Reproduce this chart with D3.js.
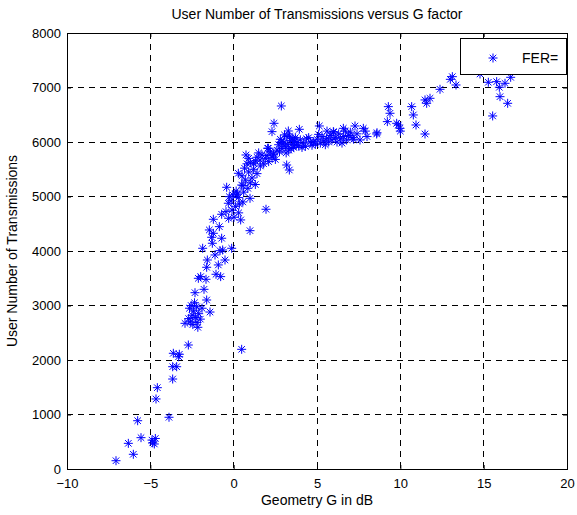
<!DOCTYPE html>
<html>
<head>
<meta charset="utf-8">
<script src="https://cdn.jsdelivr.net/npm/d3@7"></script>
<style>
body { margin: 0; background: #fff; }
text { font-family: "Liberation Sans", Arial, sans-serif; }
</style>
</head>
<body>
<script>
// axis ticks
var xTicks = [-10, -5, 0, 5, 10, 15, 20];
var yTicks = [0, 1000, 2000, 3000, 4000, 5000, 6000, 7000, 8000];

// geometry G (dB)
var gFactor = [
  -7.06, -6.32, -6.02, -5.56, -5.76, -4.9, -4.86, -4.76, -4.7, -4.66, -4.58, -3.88, -3.66, -3.66, -3.42, -3.62, -3.26, -3.3, -2.72, 0.48,
  -2.92, -2.7, -2.6, -2.5, -2.45, -2.4, -2.3, -2.2, -2.1, -2.55, -2.35, -2.22, -2.0, -1.9, -1.42, -2.65, -2.15,
  -1.62, -2.32, -1.78, -2.12, -1.98, -1.66, -1.06, -0.78, -1.62, -0.92, -1.58, -0.52, -1.12, -0.82, -0.66, -0.12, -1.86,
  -1.28, -0.72, -1.32, -1.22, -1.46, -0.86, 0.98, -1.22, -0.72, -0.46,
  -0.3, -0.1, 0.1, 0.3, 0.42, 0.02, -0.32, 0.34, -0.26, 0.22, 0.98, 1.94, -0.42, 0.48, -0.15, 0.55, 0.15, -0.05, 0.28, 0.6,
  0.28, 0.74, 1.58, 2.08, 3.18, 3.34, 0.16, 0.56, 0.7, 0.85, 1.0, 1.1, 1.3, 0.5, 0.9, 1.2, 0.65, 1.4, 1.6, 1.0, 1.3, 1.8,
  1.9, 2.1, 2.3, 2.4, 2.5, 1.7, 2.2, 2.0, 1.5, 0.9, 2.6, 2.38, 2.04, 1.2, 0.8, 1.4,
  2.86, 2.42, 2.3, 3.28, 3.94, 5.14, 5.98, 2.7, 2.8, 2.9, 3.0, 3.1, 3.2, 3.3, 3.4, 3.5, 3.6, 3.7, 3.8, 3.9, 4.0, 4.2, 4.38,
  2.75, 3.05, 3.15, 3.45, 3.65, 2.95, 3.25, 3.55, 4.1, 3.35, 2.85, 3.75, 4.3,
  4.6, 4.78, 4.9, 5.0, 5.2, 5.3, 5.4, 5.58, 5.7, 5.8, 5.9, 6.1, 6.2, 6.3, 6.4, 6.58, 6.6, 6.78, 6.9, 7.0, 7.1, 7.28, 7.4,
  7.58, 7.78, 7.9, 8.0, 4.5, 5.1, 5.5, 6.0, 6.7, 7.2, 4.7, 5.6, 6.5,
  8.58, 8.6, 9.28, 9.38, 9.22, 9.78, 9.98, 9.88, 10.0, 10.68, 10.78, 10.94, 11.48, 11.48, 11.78, 11.58, 12.38, 13.12, 13.34,
  14.78, 15.28, 15.78, 15.94, 15.98, 16.28, 16.44, 16.62, 15.54, 13.0
];

// user number of transmissions, same order
var transmissions = [
  152, 471, 270, 575, 886, 530, 480, 459, 560, 1285, 1492, 949, 1651, 1877, 1877, 2123, 2105, 2060, 2275, 2196,
  2673, 2760, 2700, 2820, 2650, 2900, 2780, 2690, 2850, 3000, 3050, 2978, 2750, 2950, 2880, 2950, 2600,
  3101, 3235, 3297, 3499, 3530, 3481, 3573, 3530, 3701, 3744, 3835, 3835, 3927, 4006, 4019, 4050, 4050,
  4142, 4234, 4252, 4325, 4386, 4447, 4373, 4582, 4674, 4722,
  4600, 4750, 4820, 4700, 4570, 4619, 4876, 4863, 4997, 5046, 4967, 4766, 5169, 5211, 4920, 4900, 5100, 5030, 4980, 5080,
  5426, 5762, 5670, 5885, 5578, 5486, 5028, 5200, 5300, 5150, 5250, 5340, 5220, 5380, 5450, 5500, 5520, 5420, 5560, 5620, 5650, 5600,
  5700, 5640, 5720, 5780, 5680, 5760, 5820, 5750, 5800, 5700, 5850, 5762, 5885, 5600, 5600, 5720,
  6661, 6343, 6190, 6202, 6233, 6294, 6190, 5950, 6050, 5880, 6000, 5920, 6100, 5850, 6030, 5960, 5900, 6080, 5990, 5930, 6040, 5980, 6060,
  5820, 6130, 5800, 5880, 6010, 5970, 5950, 6070, 5900, 6110, 6000, 5940, 5920,
  6000, 6006, 5960, 6050, 5980, 6100, 6020, 6068, 6000, 6120, 6040, 6080, 6000, 6150, 6060, 6251, 6100, 6037, 6120, 6180, 6080, 6294, 6150,
  6037, 6251, 6200, 6100, 6080, 6140, 5950, 6180, 6200, 6050, 5940, 6200, 5980,
  6147, 6170, 6649, 6527, 6374, 6343, 6251, 6312, 6200, 6649, 6496, 6312, 6147, 6772, 6802, 6710, 6967, 7199, 7046,
  7248, 7096, 7107, 7004, 6832, 7077, 6710, 7187, 6478, 7150
];

var legendLabels = ["FER="];

var W = 577, H = 515;
var margin = {top: 33, right: 10, bottom: 46, left: 67};
var width = W - margin.left - margin.right;
var height = H - margin.top - margin.bottom;

var svg = d3.select("body").append("svg")
  .attr("width", W)
  .attr("height", H);

var g = svg.append("g")
  .attr("transform", "translate(" + margin.left + "," + margin.top + ")");

var x = d3.scaleLinear().domain([-10, 20]).range([0, width]);
var y = d3.scaleLinear().domain([0, 8000]).range([height, 0]);

// dashed grid
g.selectAll(".vgrid").data(xTicks.slice(1, -1)).enter().append("line")
  .attr("x1", d => x(d)).attr("x2", d => x(d))
  .attr("y1", 0).attr("y2", height)
  .attr("stroke", "#000").attr("stroke-width", 1)
  .attr("stroke-dasharray", "6,5")
  .attr("shape-rendering", "crispEdges");
g.selectAll(".hgrid").data(yTicks.slice(1, -1)).enter().append("line")
  .attr("x1", 0).attr("x2", width)
  .attr("y1", d => y(d)).attr("y2", d => y(d))
  .attr("stroke", "#000").attr("stroke-width", 1)
  .attr("stroke-dasharray", "6,5")
  .attr("shape-rendering", "crispEdges");

// axes, ticks pointing inward like matlab
function styleAxis(sel) {
  sel.select(".domain").remove();
  sel.selectAll("line").attr("stroke", "#000");
  sel.selectAll("text").attr("fill", "#000").style("font-size", "13px");
}
g.append("g").attr("transform", "translate(0," + height + ")")
  .call(d3.axisBottom(x).tickValues(xTicks).tickSizeInner(-4).tickSizeOuter(0).tickPadding(10))
  .call(styleAxis);
g.append("g")
  .call(d3.axisTop(x).tickValues(xTicks).tickSizeInner(-4).tickSizeOuter(0).tickFormat(""))
  .call(styleAxis);
g.append("g")
  .call(d3.axisLeft(y).tickValues(yTicks).tickSizeInner(-4).tickSizeOuter(0).tickPadding(6).tickFormat(d3.format("d")))
  .call(styleAxis);
g.append("g").attr("transform", "translate(" + width + ",0)")
  .call(d3.axisRight(y).tickValues(yTicks).tickSizeInner(-4).tickSizeOuter(0).tickFormat(""))
  .call(styleAxis);

g.append("rect")
  .attr("x", 0).attr("y", 0).attr("width", width).attr("height", height)
  .attr("fill", "none").attr("stroke", "#000").attr("stroke-width", 1)
  .attr("shape-rendering", "crispEdges");

// asterisk marker
function star(r) {
  var d = r * 0.72;
  return "M0," + (-r) + "V" + r + "M" + (-r) + ",0H" + r +
    "M" + (-d) + "," + (-d) + "L" + d + "," + d +
    "M" + (-d) + "," + d + "L" + d + "," + (-d);
}

var points = gFactor.map((v, i) => [v, transmissions[i]]);

g.append("g").selectAll("path").data(points).enter().append("path")
  .attr("transform", d => "translate(" + x(d[0]) + "," + y(d[1]) + ")")
  .attr("d", star(4.5))
  .attr("fill", "none")
  .attr("stroke", "#0000ff")
  .attr("stroke-width", 1);

// legend
var lg = svg.append("g").attr("transform", "translate(460,38)");
lg.append("rect").attr("width", 106).attr("height", 36)
  .attr("fill", "#fff").attr("stroke", "#000").attr("stroke-width", 1)
  .attr("shape-rendering", "crispEdges");
lg.append("path").attr("transform", "translate(33,20)")
  .attr("d", star(4.5)).attr("fill", "none").attr("stroke", "#0000ff");
lg.append("text").attr("x", 62).attr("y", 25)
  .style("font-size", "14px").text(legendLabels[0]);

// titles
svg.append("text").attr("x", margin.left + width / 2).attr("y", 19)
  .attr("text-anchor", "middle").style("font-size", "14px")
  .text("User Number of Transmissions versus G factor");
svg.append("text").attr("x", margin.left + width / 2).attr("y", 505)
  .attr("text-anchor", "middle").style("font-size", "14px")
  .text("Geometry G in dB");
svg.append("text")
  .attr("transform", "translate(17," + (margin.top + height / 2) + ") rotate(-90)")
  .attr("text-anchor", "middle").style("font-size", "14px")
  .text("User Number of Transmissions");
</script>
</body>
</html>
